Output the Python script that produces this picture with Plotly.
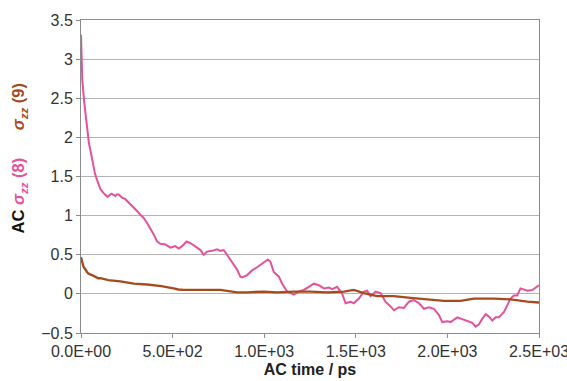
import plotly.graph_objects as go

# Autocorrelation of sigma_zz for two runs, versus correlation time (ps)
t_run8 = [0, 3, 7, 18, 31, 43, 62, 76, 87, 94, 106, 122, 145, 160, 167, 188, 195, 206, 224, 242,
          260, 279, 306, 324, 342, 360, 379, 397, 415, 433, 461, 488, 515, 533, 552, 576, 597,
          624, 652, 670, 688, 716, 743, 761, 779, 797, 825, 852, 870, 879, 907, 934, 961, 989,
          1020, 1034, 1052, 1080, 1098, 1125, 1162, 1189, 1216, 1244, 1271, 1298, 1326, 1354,
          1371, 1398, 1426, 1444, 1471, 1489, 1517, 1544, 1562, 1580, 1608, 1635, 1662, 1690,
          1708, 1735, 1763, 1790, 1817, 1845, 1872, 1899, 1926, 1954, 1972, 2000, 2017, 2054,
          2081, 2108, 2136, 2154, 2172, 2190, 2209, 2227, 2245, 2263, 2281, 2309, 2327, 2345,
          2363, 2381, 2399, 2418, 2436, 2463, 2481, 2500]
ac_run8 = [3.31, 2.99, 2.73, 2.44, 2.13, 1.93, 1.71, 1.54, 1.46, 1.41, 1.34, 1.29, 1.24, 1.27,
           1.28, 1.25, 1.27, 1.27, 1.23, 1.21, 1.17, 1.13, 1.06, 1.01, 0.97, 0.91, 0.84, 0.76,
           0.67, 0.64, 0.63, 0.59, 0.61, 0.58, 0.61, 0.67, 0.65, 0.61, 0.56, 0.50, 0.54, 0.55,
           0.57, 0.55, 0.56, 0.50, 0.41, 0.31, 0.22, 0.21, 0.24, 0.30, 0.34, 0.39, 0.44, 0.41,
           0.28, 0.22, 0.13, 0.03, -0.01, 0.03, 0.05, 0.09, 0.13, 0.11, 0.07, 0.08, 0.06, 0.09,
           0.00, -0.12, -0.10, -0.12, -0.06, 0.03, 0.04, -0.03, 0.03, 0.01, -0.10, -0.16, -0.21,
           -0.17, -0.18, -0.10, -0.08, -0.12, -0.19, -0.17, -0.19, -0.27, -0.36, -0.35, -0.36,
           -0.30, -0.32, -0.34, -0.37, -0.42, -0.39, -0.32, -0.26, -0.29, -0.34, -0.30, -0.30,
           -0.23, -0.15, -0.06, -0.02, -0.02, 0.07, 0.05, 0.04, 0.05, 0.08, 0.11]

t_run9 = [0, 13, 33, 40, 69, 94, 106, 149, 215, 258, 288, 360, 438, 506, 531, 561, 652, 761,
          852, 907, 998, 1071, 1162, 1253, 1344, 1435, 1489, 1544, 1617, 1708, 1799, 1890,
          1981, 2072, 2145, 2254, 2345, 2436, 2500]
ac_run9 = [0.47, 0.35, 0.28, 0.26, 0.23, 0.20, 0.20, 0.175, 0.16, 0.14, 0.13, 0.12, 0.10, 0.07,
           0.056, 0.05, 0.05, 0.05, 0.02, 0.02, 0.03, 0.02, 0.03, 0.03, 0.02, 0.03, 0.05, 0.01,
           -0.03, -0.03, -0.05, -0.07, -0.09, -0.09, -0.06, -0.06, -0.07, -0.10, -0.11]

x_ticks = [0, 500, 1000, 1500, 2000, 2500]
x_tick_text = ["0.0E+00", "5.0E+02", "1.0E+03", "1.5E+03", "2.0E+03", "2.5E+03"]
y_ticks = [-0.5, 0, 0.5, 1, 1.5, 2, 2.5, 3, 3.5]
y_tick_text = ["\u22120.5", "0", "0.5", "1", "1.5", "2", "2.5", "3", "3.5"]

PINK = "#E6519C"
BROWN = "#A64B1E"
FONT = "Liberation Sans, Arial, sans-serif"

fig = go.Figure()
fig.add_trace(go.Scatter(x=t_run8, y=ac_run8, mode="lines",
                         line=dict(color=PINK, width=2), showlegend=False))
fig.add_trace(go.Scatter(x=t_run9, y=ac_run9, mode="lines",
                         line=dict(color=BROWN, width=2.3), showlegend=False))

sigma = "<i>σ</i><sub><i>zz</i></sub>"
y_title = (
    "<b>AC</b>&nbsp;"
    f"<span style='color:{PINK}'><b>{sigma}&nbsp;(8)</b></span>"
    "&nbsp;&nbsp;&nbsp;&nbsp;&nbsp;&nbsp;"
    f"<span style='color:{BROWN}'><b>{sigma}&nbsp;(9)</b></span>"
)

fig.update_layout(
    width=567, height=381,
    margin=dict(l=81, r=28, t=20, b=48),
    paper_bgcolor="white", plot_bgcolor="white",
    font=dict(family=FONT, size=16, color="#333333"),
    xaxis=dict(
        range=[0, 2500], tickvals=x_ticks, ticktext=x_tick_text,
        showgrid=False, zeroline=False, automargin=False,
        ticklabeloverflow="allow",
        showline=True, linecolor="#8c8c8c", linewidth=1, mirror=True,
        ticks="outside", ticklen=4, tickcolor="#8c8c8c",
        tickfont=dict(size=16, color="#333333"),
        title=dict(text="<b>AC time / ps</b>", standoff=4,
                   font=dict(size=16, color="#222222")),
    ),
    yaxis=dict(
        range=[-0.5, 3.5], tickvals=y_ticks, ticktext=y_tick_text,
        showgrid=True, gridcolor="#b4b4b4", gridwidth=1, zeroline=False,
        automargin=False,
        showline=True, linecolor="#8c8c8c", linewidth=1, mirror=True,
        ticks="outside", ticklen=4, tickcolor="#8c8c8c",
        tickfont=dict(size=16, color="#333333"),
    ),
    annotations=[dict(
        text=y_title, textangle=-90, showarrow=False,
        xref="paper", yref="paper", x=-0.1354, y=0.5575,
        xanchor="center", yanchor="middle",
        font=dict(family=FONT, size=16.5, color="#111111"),
    )],
)

fig.write_html("out.html")
